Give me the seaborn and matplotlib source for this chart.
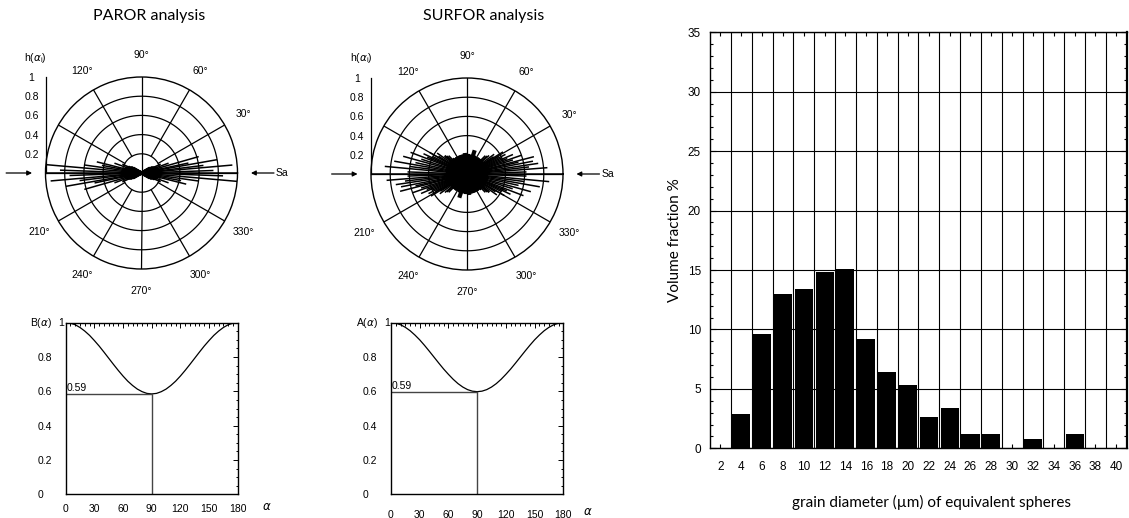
import numpy as np
import pandas as pd
import matplotlib
matplotlib.use("Agg")
import matplotlib.pyplot as plt
import seaborn as sns
from matplotlib.ticker import MultipleLocator

# ---------------- data ----------------
DIAM_LABELS = ["2", "4", "6", "8", "10", "12", "14", "16", "18", "20",
               "22", "24", "26", "28", "30", "32", "34", "36", "38", "40"]
VOL_FRACTION = [0.0, 2.9, 9.6, 13.0, 13.4, 14.8, 15.1, 9.2, 6.4, 5.3,
                2.6, 3.4, 1.2, 1.2, 0.0, 0.8, 0.0, 1.2, 0.0, 0.0]

# rose diagrams (axial orientations, degrees, and normalised frequency h)
PAROR_LONG_ANG = [0, -5, 5, 10, 16, -14, 2, -2, 7, -8, 12, -11, 20, -20, 25, -25]
PAROR_LONG_LEN = [1.0, 1.0, 0.95, 0.80, 0.62, 0.48, 0.75, 0.85, 0.65, 0.60,
                  0.50, 0.42, 0.30, 0.30, 0.22, 0.22]
PAROR_CORE_ANG = [-30, -28, -26, -24, -22, -20, -18, -16, -14, -12, -10, -8, -6, -4, -2,
                  0, 2, 4, 6, 8, 10, 12, 14, 16, 18, 20, 22, 24, 26, 28, 30]
PAROR_CORE_LEN = [0.10, 0.12, 0.13, 0.15, 0.16, 0.17, 0.16, 0.18, 0.17, 0.19, 0.18,
                  0.19, 0.20, 0.19, 0.18, 0.20, 0.19, 0.20, 0.18, 0.19, 0.17, 0.19,
                  0.18, 0.17, 0.18, 0.16, 0.15, 0.14, 0.13, 0.11, 0.10]

SURFOR_LONG_ANG = [0, 2, 4.5, 6.5, 8.5, 11, 13, 14.5, 17, 19, 21, 23, 25, 27, 29, 31.5,
                   33, 36, 40, 42, 45,
                   -2, -5.3, -7.5, -10, -12.5, -15.5, -18, -21, -23, -25, -27, -30,
                   -32, -35, -38, -40, -42, -45]
SURFOR_LONG_LEN = [1.0, 0.62, 0.84, 0.65, 0.75, 0.70, 0.55, 0.72, 0.50, 0.60, 0.45,
                   0.52, 0.40, 0.45, 0.38, 0.44, 0.33, 0.35, 0.30, 0.28, 0.27,
                   0.62, 0.86, 0.60, 0.77, 0.55, 0.69, 0.50, 0.63, 0.45, 0.50, 0.40,
                   0.45, 0.35, 0.38, 0.30, 0.30, 0.28, 0.27]
SURFOR_CORE_ANG = list(range(0, 180, 3))
SURFOR_CORE_LEN = [0.22, 0.21, 0.22, 0.20, 0.21, 0.22, 0.20, 0.21, 0.20, 0.22,
                   0.21, 0.20, 0.19, 0.21, 0.20, 0.19, 0.20, 0.21, 0.19, 0.20,
                   0.18, 0.20, 0.19, 0.21, 0.26, 0.20, 0.19, 0.18, 0.20, 0.21,
                   0.19, 0.20, 0.22, 0.19, 0.20, 0.18, 0.21, 0.20, 0.19, 0.20,
                   0.21, 0.19, 0.20, 0.21, 0.20, 0.22, 0.20, 0.21, 0.20, 0.22,
                   0.21, 0.20, 0.22, 0.21, 0.20, 0.22, 0.21, 0.22, 0.20, 0.21]

# B(alpha) and A(alpha) curves
ALPHA = list(range(0, 181, 5))
B_VALUES = [1.0, 0.997, 0.988, 0.972, 0.951, 0.926, 0.896, 0.864, 0.829, 0.793,
            0.757, 0.722, 0.689, 0.659, 0.634, 0.613, 0.598, 0.588, 0.585,
            0.588, 0.598, 0.613, 0.634, 0.659, 0.689, 0.722, 0.757, 0.793,
            0.829, 0.864, 0.896, 0.926, 0.951, 0.972, 0.988, 0.997, 1.0]
A_VALUES = [1.0, 0.997, 0.988, 0.973, 0.953, 0.928, 0.900, 0.868, 0.834, 0.799,
            0.764, 0.730, 0.699, 0.670, 0.645, 0.625, 0.610, 0.601, 0.598,
            0.601, 0.610, 0.625, 0.645, 0.670, 0.699, 0.730, 0.764, 0.799,
            0.834, 0.868, 0.900, 0.928, 0.953, 0.973, 0.988, 0.997, 1.0]
B_MIN_ALPHA, B_MIN = 90, 0.585
A_MIN_ALPHA, A_MIN = 90, 0.598

RING_R = [0.2, 0.4, 0.6, 0.8, 1.0]
SPOKES = [0, 30, 60, 90, 120, 150, 180, 210, 240, 270, 300, 330]
ANGLE_LABELS = [30, 60, 90, 120, 210, 240, 270, 300, 330]
H_TICKS = [0.2, 0.4, 0.6, 0.8, 1.0]
H_TICKLABELS = ["0.2", "0.4", "0.6", "0.8", "1"]

# ---------------- style ----------------
sns.set_style("white")
plt.rcParams["font.family"] = ["Liberation Sans", "DejaVu Sans"]
plt.rcParams["mathtext.fontset"] = "dejavusans"
plt.rcParams["axes.edgecolor"] = "black"
plt.rcParams["xtick.color"] = "black"
plt.rcParams["ytick.color"] = "black"
plt.rcParams["text.color"] = "black"

W, H = 1129, 518
fig = plt.figure(figsize=(W / 100, H / 100), dpi=100)


def fx(px):
    return px / W


def fy(py):
    return 1 - py / H


LABEL_FONT = ["Lato", "DejaVu Sans"]


def rose_panel(cx, cy, rad, long_ang, long_len, core_ang, core_len, core_lw, hx_lab):
    ax = fig.add_axes([fx(cx - rad), fy(cy + rad), 2 * rad / W, 2 * rad / H],
                      projection="polar")
    ax.set_facecolor("none")
    ax.grid(False)
    ax.set_xticks([])
    ax.set_yticks([])
    ax.spines["polar"].set_linewidth(1.0)
    ring_theta = np.linspace(0, 2 * np.pi, 721)
    for rr in RING_R[:-1]:
        ax.plot(ring_theta, np.full_like(ring_theta, rr), color="black", lw=0.9)
    for a in SPOKES:
        start = 0.0 if a % 90 == 0 else 0.2
        ax.plot([np.deg2rad(a)] * 2, [start, 1.0], color="black", lw=0.9)
    th = np.deg2rad(np.array(core_ang, dtype=float))
    ax.vlines(th, 0, core_len, color="black", lw=core_lw)
    ax.vlines(th + np.pi, 0, core_len, color="black", lw=core_lw)
    th = np.deg2rad(np.array(long_ang, dtype=float))
    ax.vlines(th, 0, long_len, color="black", lw=1.1)
    ax.vlines(th + np.pi, 0, long_len, color="black", lw=1.1)
    ax.set_ylim(0, 1)
    for a in ANGLE_LABELS:
        ax.text(np.deg2rad(a), 1.23, f"{a}°", ha="center", va="center", fontsize=7.5)
    ax.annotate("", xy=(np.pi, 1.14), xytext=(np.pi, 1.41), annotation_clip=False,
                arrowprops=dict(arrowstyle="-|>", color="black", lw=0.9, mutation_scale=7,
                                shrinkA=0, shrinkB=0))
    ax.annotate("", xy=(0, 1.14), xytext=(0, 1.38), annotation_clip=False,
                arrowprops=dict(arrowstyle="-|>", color="black", lw=0.9, mutation_scale=7,
                                shrinkA=0, shrinkB=0))
    ax.text(0, 1.40, "Sa", ha="left", va="center", fontsize=7.5)

    # h(alpha_i) scale
    hax = fig.add_axes([fx(cx - rad), fy(cy), 4 / W, rad / H])
    hax.set_facecolor("none")
    for s in ["top", "right", "bottom"]:
        hax.spines[s].set_visible(False)
    hax.spines["left"].set_linewidth(0.9)
    hax.set_ylim(0, 1)
    hax.set_xticks([])
    hax.set_yticks(H_TICKS)
    hax.set_yticklabels(H_TICKLABELS)
    hax.yaxis.set_minor_locator(MultipleLocator(0.05))
    hax.tick_params(axis="y", which="major", direction="in", length=3.5, width=0.8,
                    labelsize=7.5, pad=10)
    hax.tick_params(axis="y", which="minor", direction="in", length=1.8, width=0.6)
    for lab in hax.get_yticklabels():
        lab.set_ha("center")
    fig.text(fx(hx_lab), fy(58), r"h($\alpha_{\mathregular{i}}$)", ha="center", va="center",
             fontsize=7.5)
    return ax


rose_panel(141.5, 173, 96, PAROR_LONG_ANG, PAROR_LONG_LEN, PAROR_CORE_ANG, PAROR_CORE_LEN,
           2.4, 35)
rose_panel(467, 174, 96, SURFOR_LONG_ANG, SURFOR_LONG_LEN, SURFOR_CORE_ANG, SURFOR_CORE_LEN,
           3.0, 361)

fig.text(fx(149), fy(16), "PAROR analysis", ha="center", va="center", fontsize=11.5,
         family=LABEL_FONT)
fig.text(fx(484), fy(16), "SURFOR analysis", ha="center", va="center", fontsize=11.5,
         family=LABEL_FONT)


def curve_panel(left, right, top, bottom, vals, amin_x, amin_y, name, name_x, one_x,
                alpha_x, alpha_y, xpad):
    ax = fig.add_axes([fx(left), fy(bottom), (right - left) / W, (bottom - top) / H])
    df = pd.DataFrame({"alpha": ALPHA, "val": vals})
    sns.lineplot(data=df, x="alpha", y="val", ax=ax, color="black", lw=0.9)
    ax.plot([0, amin_x], [amin_y, amin_y], color="#444444", lw=1.0)
    ax.plot([amin_x, amin_x], [0, amin_y], color="#444444", lw=1.0)
    ax.text(1, amin_y + 0.005, "0.59", ha="left", va="bottom", fontsize=7.5)
    ax.set_xlim(0, 180)
    ax.set_ylim(0, 1)
    ax.set_xlabel("")
    ax.set_ylabel("")
    ax.set_xticks(range(0, 181, 30))
    ax.xaxis.set_minor_locator(MultipleLocator(5))
    ax.set_yticks([0, 0.2, 0.4, 0.6, 0.8])
    ax.set_yticklabels(["0", "0.2", "0.4", "0.6", "0.8"])
    ax.yaxis.set_minor_locator(MultipleLocator(0.05))
    ax.tick_params(which="both", direction="in", top=True, right=True, width=0.7)
    ax.tick_params(which="major", length=3.5, labelsize=7.5)
    ax.tick_params(which="minor", length=1.8)
    ax.tick_params(axis="y", pad=20.5)
    ax.tick_params(axis="x", pad=xpad)
    for lab in ax.get_yticklabels():
        lab.set_ha("left")
    for s in ax.spines.values():
        s.set_linewidth(1.0)
        s.set_color("black")
    fig.text(fx(name_x), fy(top), name, ha="right", va="center", fontsize=7.5)
    fig.text(fx(one_x), fy(top), "1", ha="center", va="center", fontsize=7.5)
    fig.text(fx(alpha_x), fy(alpha_y), r"$\alpha$", ha="center", va="center", fontsize=8.5)
    return ax


curve_panel(65.7, 237.7, 322.7, 494.3, B_VALUES, B_MIN_ALPHA, B_MIN, r"B($\alpha$)", 52, 61,
            267, 507, 7)
curve_panel(391, 563.3, 322.7, 494.3, A_VALUES, A_MIN_ALPHA, A_MIN, r"A($\alpha$)", 378, 387.5,
            588, 512, 11)

# ---------------- histogram ----------------
hleft, hright, htop, hbottom = 710, 1126.7, 32.3, 448.3
hax = fig.add_axes([fx(hleft), fy(hbottom), (hright - hleft) / W, (hbottom - htop) / H])
hdf = pd.DataFrame({"diameter": DIAM_LABELS, "volume": VOL_FRACTION})
sns.barplot(data=hdf, x="diameter", y="volume", order=DIAM_LABELS, color="black",
            saturation=1, width=0.87, linewidth=0, ax=hax)
hax.set_xlim(-0.5, len(DIAM_LABELS) - 0.5)
hax.set_ylim(0, 35)
hax.set_xlabel("")
hax.set_ylabel("")
hax.set_yticks(range(0, 36, 5))
hax.yaxis.set_minor_locator(MultipleLocator(1))
hax.set_xticks(np.arange(0.5, len(DIAM_LABELS) - 0.5, 1), minor=True)
hax.set_axisbelow(True)
hax.grid(which="minor", axis="x", color="black", lw=0.8)
hax.grid(which="major", axis="y", color="black", lw=0.8)
hax.tick_params(axis="x", which="minor", length=0)
hax.tick_params(axis="x", which="major", direction="in", top=True, bottom=True, length=3,
                width=0.8, labelsize=8.5, pad=9)
hax.tick_params(axis="y", which="both", direction="in", left=True, right=True, width=0.8)
hax.tick_params(axis="y", which="major", length=4, labelsize=8.5, pad=6.5)
hax.tick_params(axis="y", which="minor", length=2)
for s in hax.spines.values():
    s.set_linewidth(1.0)
    s.set_color("black")
hax.spines["right"].set_linewidth(1.6)

fig.text(fx(675), fy(240), "Volume fraction %", rotation=90, ha="center", va="center",
         fontsize=11, family=LABEL_FONT)
fig.text(fx(931), fy(502), "grain diameter (µm) of equivalent spheres", ha="center",
         va="center", fontsize=11, family=LABEL_FONT)

fig.savefig("out.png", dpi=100)
